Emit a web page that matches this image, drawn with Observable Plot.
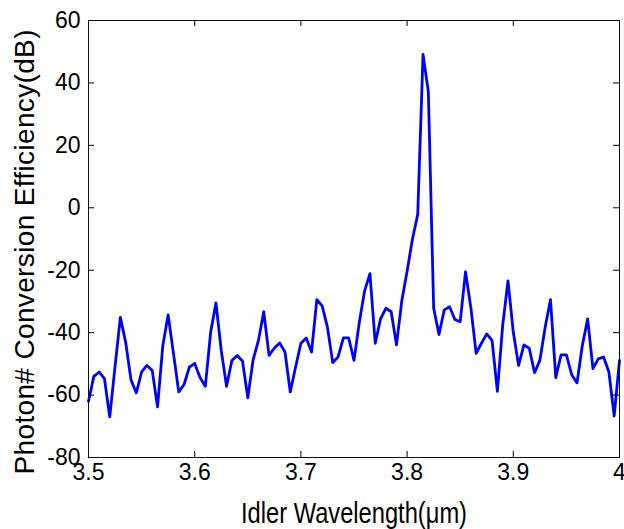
<!DOCTYPE html>
<html>
<head>
<meta charset="utf-8">
<script src="https://cdn.jsdelivr.net/npm/d3@7"></script>
<script src="https://cdn.jsdelivr.net/npm/@observablehq/plot@0.6"></script>
<style>
  html, body { margin: 0; padding: 0; background: #fff; }
  #chart svg { display: block; }
</style>
</head>
<body>
<div id="chart"></div>
<script>
const wavelength = [
  3.500, 3.505, 3.510, 3.515, 3.520, 3.525, 3.530, 3.535, 3.540, 3.545,
  3.550, 3.555, 3.560, 3.565, 3.570, 3.575, 3.580, 3.585, 3.590, 3.595,
  3.600, 3.605, 3.610, 3.615, 3.620, 3.625, 3.630, 3.635, 3.640, 3.645,
  3.650, 3.655, 3.660, 3.665, 3.670, 3.675, 3.680, 3.685, 3.690, 3.695,
  3.700, 3.705, 3.710, 3.715, 3.720, 3.725, 3.730, 3.735, 3.740, 3.745,
  3.750, 3.755, 3.760, 3.765, 3.770, 3.775, 3.780, 3.785, 3.790, 3.795,
  3.800, 3.805, 3.810, 3.815, 3.820, 3.825, 3.830, 3.835, 3.840, 3.845,
  3.850, 3.855, 3.860, 3.865, 3.870, 3.875, 3.880, 3.885, 3.890, 3.895,
  3.900, 3.905, 3.910, 3.915, 3.920, 3.925, 3.930, 3.935, 3.940, 3.945,
  3.950, 3.955, 3.960, 3.965, 3.970, 3.975, 3.980, 3.985, 3.990, 3.995,
  4.000
];
const efficiency = [
  -62.0, -54.0, -52.6, -54.7, -67.0, -50.8, -35.1, -43.1, -55.1, -59.3,
  -52.6, -50.5, -52.1, -63.8, -44.1, -34.3, -46.7, -59.0, -56.6, -51.0,
  -49.9, -54.4, -57.2, -39.9, -30.5, -45.7, -57.2, -48.9, -47.3, -49.1,
  -60.9, -48.7, -42.5, -33.3, -47.3, -44.9, -43.3, -46.2, -59.0, -51.0,
  -43.4, -41.7, -46.2, -29.4, -31.4, -38.3, -49.6, -47.8, -41.7, -41.7,
  -48.9, -36.7, -26.6, -21.1, -43.4, -35.6, -32.2, -33.3, -43.9, -29.8,
  -20.3, -10.1, -2.1, 49.1, 37.2, -32.1, -40.6, -32.7, -31.7, -35.8,
  -36.5, -20.5, -31.9, -46.6, -43.4, -40.4, -42.5, -58.8, -37.7, -23.4,
  -39.9, -50.5, -43.9, -45.0, -52.8, -48.9, -38.3, -29.4, -54.4, -47.1,
  -47.1, -53.5, -56.1, -44.1, -35.6, -51.5, -48.4, -47.8, -52.6, -66.7,
  -48.9
];
const xTicks = [3.5, 3.6, 3.7, 3.8, 3.9, 4.0];
const xTickLabels = ["3.5", "3.6", "3.7", "3.8", "3.9", "4"];
const yTicks = [60, 40, 20, 0, -20, -40, -60, -80];
const yTickLabels = ["60", "40", "20", "0", "-20", "-40", "-60", "-80"];
const xLabel = ["Idler Wavelength(\u03bcm)"];
const yLabel = ["Photon# Conversion Efficiency(dB)"];

const data = wavelength.map((w, i) => ({w, e: efficiency[i]}));

const W = 624, H = 529;
const mL = 88, mR = 5, mT = 20, mB = 72;
const plotW = W - mL - mR, plotH = H - mT - mB;
const tickLen = 6;

const chart = Plot.plot({
  width: W,
  height: H,
  marginLeft: mL,
  marginRight: mR,
  marginTop: mT,
  marginBottom: mB,
  style: {fontFamily: "'Liberation Sans', Arial, sans-serif", fontSize: "23px", background: "#fff", color: "#000"},
  x: {domain: [3.5, 4.0], label: null},
  y: {domain: [-80, 60], label: null},
  marks: [
    Plot.line(data, {x: "w", y: "e", stroke: "#0000ff", strokeWidth: 2.8, strokeLinejoin: "round"}),
    // inward ticks on all four sides
    Plot.ruleX(xTicks, {x: d => d, insetTop: plotH - tickLen, stroke: "#000"}),
    Plot.ruleX(xTicks, {x: d => d, insetBottom: plotH - tickLen, stroke: "#000"}),
    Plot.ruleY(yTicks, {y: d => d, insetRight: plotW - tickLen, stroke: "#000"}),
    Plot.ruleY(yTicks, {y: d => d, insetLeft: plotW - tickLen, stroke: "#000"}),
    Plot.frame({stroke: "#111", strokeWidth: 1}),
    Plot.axisX({ticks: xTicks, tickSize: 0, tickPadding: 6, tickFormat: (d, i) => xTickLabels[i], label: null, fontSize: 23}),
    Plot.axisY({ticks: yTicks, tickSize: 0, tickPadding: 8, tickFormat: (d, i) => yTickLabels[i], label: null, fontSize: 23}),
    Plot.text(xLabel, {frameAnchor: "bottom", dy: 56, fontSize: 29, textAnchor: "middle", fill: "#000", lineAnchor: "middle"}),
    Plot.text(yLabel, {frameAnchor: "left", rotate: -90, dx: -63, dy: 13, fontSize: 28, textAnchor: "middle", fill: "#000", lineAnchor: "middle"})
  ]
});
// condense the x-axis title like the reference (narrow glyphs)
d3.select(chart).selectAll("text")
  .filter(function () { return this.textContent === xLabel[0]; })
  .attr("textLength", 226)
  .attr("lengthAdjust", "spacingAndGlyphs");
d3.select(chart).selectAll("text")
  .filter(function () { return this.textContent === yLabel[0]; })
  .attr("textLength", 445)
  .attr("lengthAdjust", "spacing");
document.getElementById("chart").appendChild(chart);
</script>
</body>
</html>
